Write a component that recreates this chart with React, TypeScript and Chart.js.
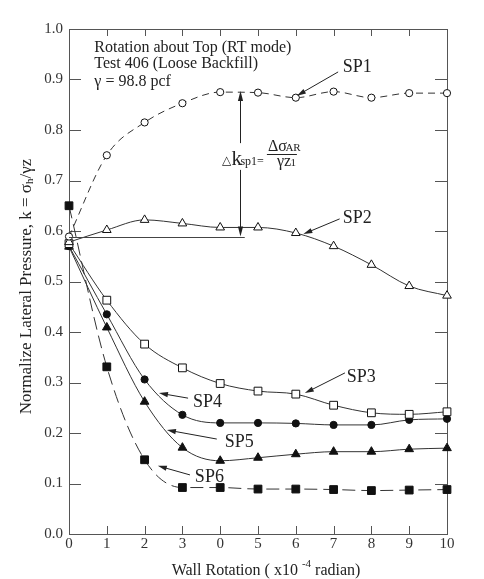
import React, { useEffect, useRef } from "react";
import { Chart, registerables } from "chart.js";

Chart.register(...registerables);

// Wall rotation (x10^-4 rad) and normalized lateral pressure at each sensor
const rotation = [0, 1, 2, 3, 4, 5, 6, 7, 8, 9, 10];
const xTickLabels = ["0", "1", "2", "3", "0", "5", "6", "7", "8", "9", "10"];
const sp1 = [0.589, 0.75, 0.815, 0.853, 0.875, 0.874, 0.864, 0.876, 0.864, 0.873, 0.873];
const sp2 = [0.578, 0.602, 0.622, 0.615, 0.607, 0.607, 0.596, 0.57, 0.533, 0.491, 0.472];
const sp3 = [0.575, 0.463, 0.376, 0.329, 0.298, 0.283, 0.277, 0.255, 0.24, 0.237, 0.242];
const sp4 = [0.57, 0.435, 0.306, 0.236, 0.22, 0.22, 0.219, 0.216, 0.216, 0.226, 0.228];
const sp5 = [0.569, 0.409, 0.262, 0.171, 0.145, 0.151, 0.158, 0.163, 0.163, 0.168, 0.17];
const sp6 = [0.65, 0.331, 0.147, 0.092, 0.092, 0.089, 0.089, 0.088, 0.086, 0.087, 0.088];
const seriesNames = ["SP1", "SP2", "SP3", "SP4", "SP5", "SP6"];
const headerLines = ["Rotation about Top (RT mode)", "Test 406 (Loose Backfill)", "\u03b3 = 98.8 pcf"];

const SERIF = '"Liberation Serif", "Times New Roman", serif';
const INK = "#222";
const AXIS = "#555";
const LINE = "#333";

type Pt = [number, number];

// Callout placement (data units): label anchor, arrow tail, arrow tip
const callouts: { label: Pt; from: Pt; to: Pt }[] = [
  { label: [7.24, 0.925], from: [7.12, 0.915], to: [6.03, 0.868] },
  { label: [7.24, 0.626], from: [7.16, 0.624], to: [6.2, 0.594] },
  { label: [7.35, 0.311], from: [7.3, 0.319], to: [6.24, 0.279] },
  { label: [3.28, 0.261], from: [3.15, 0.269], to: [2.38, 0.279] },
  { label: [4.12, 0.182], from: [3.91, 0.188], to: [2.59, 0.206] },
  { label: [3.33, 0.113], from: [3.2, 0.117], to: [2.35, 0.135] },
];

function toPx(chart: any, x: number, y: number): Pt {
  return [chart.scales.x.getPixelForValue(x), chart.scales.y.getPixelForValue(y)];
}

function arrow(ctx: CanvasRenderingContext2D, a: Pt, b: Pt, head = 9, half = 2.6) {
  const ang = Math.atan2(b[1] - a[1], b[0] - a[0]);
  const bx = b[0] - head * 0.8 * Math.cos(ang);
  const by = b[1] - head * 0.8 * Math.sin(ang);
  ctx.beginPath();
  ctx.moveTo(a[0], a[1]);
  ctx.lineTo(bx, by);
  ctx.stroke();
  ctx.beginPath();
  ctx.moveTo(b[0], b[1]);
  ctx.lineTo(
    b[0] - head * Math.cos(ang) + half * Math.sin(ang),
    b[1] - head * Math.sin(ang) - half * Math.cos(ang)
  );
  ctx.lineTo(
    b[0] - head * Math.cos(ang) - half * Math.sin(ang),
    b[1] - head * Math.sin(ang) + half * Math.cos(ang)
  );
  ctx.closePath();
  ctx.fill();
}

// Frame and inward tick marks on all four sides
const framePlugin = {
  id: "frame",
  beforeDatasetsDraw(chart: any) {
    const { ctx, chartArea: a, scales } = chart;
    ctx.save();
    ctx.strokeStyle = AXIS;
    ctx.lineWidth = 1;
    ctx.strokeRect(a.left + 0.5, a.top + 0.5, a.right - a.left, a.bottom - a.top);
    ctx.beginPath();
    for (const t of scales.x.ticks) {
      const x = Math.round(scales.x.getPixelForValue(t.value)) + 0.5;
      ctx.moveTo(x, a.bottom);
      ctx.lineTo(x, a.bottom - 8);
      ctx.moveTo(x, a.top);
      ctx.lineTo(x, a.top + 7);
    }
    for (const t of scales.y.ticks) {
      const y = Math.round(scales.y.getPixelForValue(t.value)) + 0.5;
      ctx.moveTo(a.left, y);
      ctx.lineTo(a.left + 12, y);
      ctx.moveTo(a.right, y);
      ctx.lineTo(a.right - 12, y);
    }
    ctx.stroke();
    ctx.restore();
  },
};

// Axis titles, header text, callouts and the delta-k dimension
const notesPlugin = {
  id: "notes",
  afterDatasetsDraw(chart: any) {
    const { ctx } = chart;
    ctx.save();
    ctx.fillStyle = INK;
    ctx.strokeStyle = INK;
    ctx.lineWidth = 1;

    // header block
    ctx.font = `16px ${SERIF}`;
    ctx.textAlign = "left";
    ctx.textBaseline = "alphabetic";
    const headerY = [0.955, 0.922, 0.887];
    headerLines.forEach((s, i) => {
      const [x, y] = toPx(chart, 0.67, headerY[i]);
      ctx.fillText(s, x, y);
    });

    // callout labels and arrows
    ctx.font = `18px ${SERIF}`;
    ctx.textBaseline = "middle";
    callouts.forEach((c, i) => {
      const [lx, ly] = toPx(chart, c.label[0], c.label[1]);
      ctx.fillText(seriesNames[i], lx, ly);
      arrow(ctx, toPx(chart, c.from[0], c.from[1]), toPx(chart, c.to[0], c.to[1]));
    });

    // reference level of SP2 and the delta-k dimension arrow
    const [h0x, hy] = toPx(chart, 0, 0.589);
    const [h1x] = toPx(chart, 4.65, 0.589);
    ctx.strokeStyle = "#444";
    ctx.beginPath();
    ctx.moveTo(h0x, Math.round(hy) + 0.5);
    ctx.lineTo(h1x, Math.round(hy) + 0.5);
    ctx.stroke();
    ctx.strokeStyle = INK;
    const ax = Math.round(chart.scales.x.getPixelForValue(4.52)) + 0.5;
    const yTop = chart.scales.y.getPixelForValue(0.877);
    const yGapTop = chart.scales.y.getPixelForValue(0.774);
    const yGapBot = chart.scales.y.getPixelForValue(0.721);
    arrow(ctx, [ax, yGapTop], [ax, yTop], 10, 2.6);
    arrow(ctx, [ax, yGapBot], [ax, hy], 10, 2.6);

    // delta k_sp1 = delta sigma_AR / (gamma z_1)
    const [fx, fy] = toPx(chart, 4.045, 0.731);
    ctx.textBaseline = "alphabetic";
    ctx.font = `12px "DejaVu Sans", sans-serif`;
    ctx.fillText("\u25b3", fx, fy - 1);
    ctx.font = `21px ${SERIF}`;
    ctx.fillText("k", fx + 9.5, fy);
    ctx.font = `12px ${SERIF}`;
    ctx.fillText("sp1=", fx + 18.5, fy);
    ctx.beginPath();
    ctx.moveTo(fx + 45, Math.round(fy - 10.7) + 0.5);
    ctx.lineTo(fx + 75, Math.round(fy - 10.7) + 0.5);
    ctx.stroke();
    ctx.font = `16px ${SERIF}`;
    ctx.fillText("\u0394\u03c3", fx + 46, fy - 13.7);
    ctx.font = `11px ${SERIF}`;
    ctx.fillText("AR", fx + 63.5, fy - 13.7);
    ctx.font = `16px ${SERIF}`;
    ctx.fillText("\u03b3z", fx + 55, fy + 1.6);
    ctx.font = `11px ${SERIF}`;
    ctx.fillText("1", fx + 68.5, fy + 1.6);

    // x axis title with superscript
    const xa = chart.chartArea;
    const xParts: { t: string; size: number; dy: number }[] = [
      { t: "Wall Rotation ( x10 ", size: 16, dy: 0 },
      { t: "-4", size: 11, dy: -8 },
      { t: " radian)", size: 16, dy: 0 },
    ];
    drawParts(ctx, xParts, 266, 575);

    // y axis title with subscript, rotated
    ctx.translate(25, 286.5);
    ctx.rotate(-Math.PI / 2);
    const yParts = [
      { t: "Normalize Lateral Pressure, k = \u03c3", size: 17, dy: 0 },
      { t: "h", size: 11, dy: 2 },
      { t: "/\u03b3z", size: 17, dy: 0 },
    ];
    drawParts(ctx, yParts, 0, 6);
    void xa;
    ctx.restore();
  },
};

function drawParts(
  ctx: CanvasRenderingContext2D,
  parts: { t: string; size: number; dy: number }[],
  cx: number,
  baseline: number
) {
  ctx.textAlign = "left";
  ctx.textBaseline = "alphabetic";
  let total = 0;
  const widths = parts.map((p) => {
    ctx.font = `${p.size}px ${SERIF}`;
    const w = ctx.measureText(p.t).width;
    total += w;
    return w;
  });
  let x = cx - total / 2;
  parts.forEach((p, i) => {
    ctx.font = `${p.size}px ${SERIF}`;
    ctx.fillText(p.t, x, baseline + p.dy);
    x += widths[i];
  });
}

function series(
  label: string,
  values: number[],
  style: string,
  filled: boolean,
  radius: number,
  dash: number[]
) {
  return {
    label,
    data: rotation.map((x, i) => ({ x, y: values[i] })),
    borderColor: LINE,
    borderWidth: 1,
    borderDash: dash,
    pointStyle: style,
    pointRadius: radius,
    pointBorderColor: "#111",
    pointBorderWidth: 1,
    pointBackgroundColor: filled ? "#111" : "#fff",
    cubicInterpolationMode: "monotone" as const,
    clip: false as const,
    fill: false,
  };
}

export default function App() {
  const ref = useRef<HTMLCanvasElement | null>(null);

  useEffect(() => {
    if (!ref.current) return;
    const chart = new Chart(ref.current, {
      type: "line",
      data: {
        datasets: [
          series(seriesNames[0], sp1, "circle", false, 3.6, [7, 5]),
          series(seriesNames[1], sp2, "triangle", false, 5, []),
          series(seriesNames[2], sp3, "rect", false, 5.5, []),
          series(seriesNames[3], sp4, "circle", true, 3.6, []),
          series(seriesNames[4], sp5, "triangle", true, 5, []),
          series(seriesNames[5], sp6, "rect", true, 5.5, [13, 6]),
        ] as any,
      },
      options: {
        responsive: false,
        animation: false,
        devicePixelRatio: 1,
        layout: { padding: { top: 29, right: 37, left: 0, bottom: 0 } },
        plugins: { legend: { display: false }, tooltip: { enabled: false } },
        scales: {
          x: {
            type: "linear",
            min: 0,
            max: 10,
            grid: { display: false, drawTicks: false },
            border: { display: false },
            ticks: {
              stepSize: 1,
              padding: 1,
              color: "#333",
              font: { family: SERIF, size: 15 },
              maxRotation: 0,
              callback: (v: any) => xTickLabels[Math.round(Number(v))] ?? "",
            },
            afterFit: (s: any) => {
              s.height = 45;
            },
          },
          y: {
            type: "linear",
            min: 0,
            max: 1,
            grid: { display: false, drawTicks: false },
            border: { display: false },
            ticks: {
              stepSize: 0.1,
              padding: 6,
              color: "#333",
              font: { family: SERIF, size: 15 },
              callback: (v: any) => Number(v).toFixed(1),
            },
            afterFit: (s: any) => {
              s.width = 69;
            },
          },
        },
      },
      plugins: [framePlugin, notesPlugin],
    });
    return () => chart.destroy();
  }, []);

  return (
    <div style={{ position: "fixed", left: 0, top: 0, width: 484, height: 579, background: "#fff" }}>
      <canvas ref={ref} width={484} height={579} />
    </div>
  );
}
